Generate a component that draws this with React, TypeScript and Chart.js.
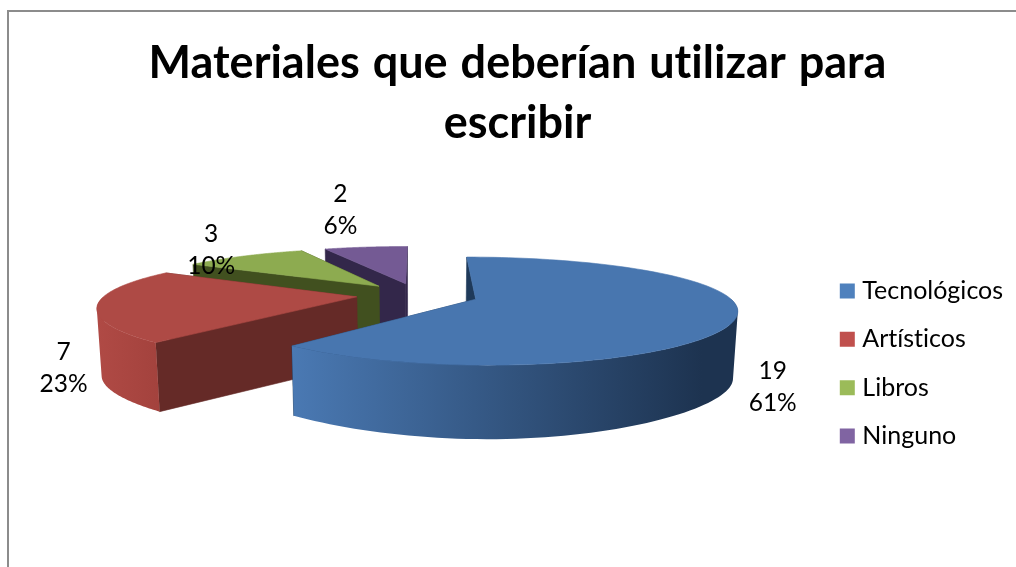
import React, { useEffect, useRef } from "react";
import { Chart, registerables } from "chart.js";

Chart.register(...registerables);

const titleLines = ["Materiales que deberían utilizar para", "escribir"];
const categories = ["Tecnológicos", "Artísticos", "Libros", "Ninguno"];
const counts = [19, 7, 3, 2];
const legendColors = ["#4f81bd", "#c0504d", "#9bbb59", "#8064a2"];
const topColors = ["#4876af", "#ae4a45", "#8dab50", "#745a94"];
const cutColors = ["#1f3a5a", "#652a27", "#41501f", "#33274a"];
const rimLight = ["#4a79b3", "#b04a45", "#8dab50", "#745a94"];
const rimDark = ["#1d3350", "#a3423d", "#6f8a3c", "#5a4676"];
const labelReach = [1.376, 1.37, 1.52, 2.08];
const labelDrop = [66, 62, 0.5, -15];
const paintOrder = [3, 2, 1, 0];

// Projection of the flat pie onto the tilted 3D plane
const CX = 417.5;
const CY = 295;
const RX = 251.6;
const RY = 49.6;
const PERSPECTIVE_X = 0.18;
const PERSPECTIVE_Y = 0.215;
const EXPLODE = 0.243;
const BOTTOM_SCALE = 0.985;
const DEPTH = 67;
const DEPTH_FRONT = 7;
const STEPS = 120;

type P = { x: number; y: number; v: number; front: boolean };

const project = (u: number, v: number, front = true): P => ({
  x: CX + (RX * u) / (1 - PERSPECTIVE_X * v),
  y: CY + (RY * v) / (1 - PERSPECTIVE_Y * v),
  v,
  front,
});
const lower = (p: P): P => {
  const f = Math.pow(Math.max(p.v, 0) / 1.083, 4);
  return { ...p, x: CX + (p.x - CX) * BOTTOM_SCALE, y: p.y + DEPTH + DEPTH_FRONT * f };
};
const polygon = (ctx: CanvasRenderingContext2D, pts: P[], fill: string | CanvasGradient) => {
  ctx.beginPath();
  pts.forEach((p, i) => (i ? ctx.lineTo(p.x, p.y) : ctx.moveTo(p.x, p.y)));
  ctx.closePath();
  ctx.fillStyle = fill;
  ctx.fill();
  ctx.strokeStyle = fill;
  ctx.lineWidth = 0.6;
  ctx.stroke();
};
const signedArea = (q: P[]) =>
  q.reduce((sum, p, i) => {
    const n = q[(i + 1) % q.length];
    return sum + p.x * n.y - n.x * p.y;
  }, 0);
// One path of equally wound strips, so that the wall has neither seams nor holes
const sweptWall = (ctx: CanvasRenderingContext2D, wall: P[], fill: CanvasGradient) => {
  ctx.beginPath();
  for (let k = 0; k < wall.length - 1; k++) {
    const quad = [wall[k], wall[k + 1], lower(wall[k + 1]), lower(wall[k])];
    const pts = signedArea(quad) < 0 ? quad.reverse() : quad;
    pts.forEach((p, i) => (i ? ctx.lineTo(p.x, p.y) : ctx.moveTo(p.x, p.y)));
    ctx.closePath();
  }
  ctx.fillStyle = fill;
  ctx.fill("nonzero");
};

const pie3d = {
  id: "pie3d",
  beforeDraw(chart: any) {
    // keeps letters apart as in the reference (no "ti" ligature) and widens the gaps between words
    chart.ctx.letterSpacing = "0.01px";
    chart.ctx.wordSpacing = "2px";
  },
  beforeDatasetsDraw(chart: any) {
    const ctx: CanvasRenderingContext2D = chart.ctx;
    const arcs = chart.getDatasetMeta(0).data;
    const total = counts.reduce((a, b) => a + b, 0);
    ctx.save();
    for (const i of paintOrder) {
      const { startAngle, endAngle } = arcs[i];
      const mid = (startAngle + endAngle) / 2;
      const ox = Math.cos(mid) * EXPLODE;
      const oy = Math.sin(mid) * EXPLODE;
      const apex = project(ox, oy);
      const rim: P[] = [];
      for (let k = 0; k <= STEPS; k++) {
        const a = startAngle + ((endAngle - startAngle) * k) / STEPS;
        rim.push(project(ox + Math.cos(a), oy + Math.sin(a), Math.sin(a) >= 0));
      }
      const first = rim[0];
      const last = rim[rim.length - 1];
      polygon(ctx, [apex, last, lower(last), lower(apex)], cutColors[i]);
      polygon(ctx, [apex, first, lower(first), lower(apex)], cutColors[i]);
      // the outer wall is only seen along the half of the rim that faces the viewer
      const wall = rim.filter((p) => p.front);
      if (wall.length > 1) {
        const xs = rim.map((p) => p.x);
        const minX = Math.min(...xs);
        const maxX = Math.max(...xs);
        const grad = ctx.createLinearGradient(minX, 0, minX + (maxX - minX) * 0.92, 0);
        grad.addColorStop(0, rimLight[i]);
        grad.addColorStop(1, rimDark[i]);
        sweptWall(ctx, wall, grad);
      }
      polygon(ctx, [apex, ...rim], topColors[i]);
    }
    ctx.fillStyle = "#000000";
    ctx.font = "24.5px Lato";
    ctx.textAlign = "center";
    ctx.textBaseline = "middle";
    counts.forEach((count, i) => {
      const { startAngle, endAngle } = arcs[i];
      const mid = (startAngle + endAngle) / 2;
      const reach = labelReach[i];
      const p = project(Math.cos(mid) * reach, Math.sin(mid) * reach);
      const y = p.y + labelDrop[i];
      ctx.fillText(String(count), p.x, y - 16);
      ctx.fillText(`${Math.round((count / total) * 100)}%`, p.x, y + 16);
    });
    ctx.restore();
    return false;
  },
};

export default function App() {
  const ref = useRef<HTMLCanvasElement>(null);
  useEffect(() => {
    const chart = new Chart(ref.current!, {
      type: "pie",
      data: {
        labels: categories,
        datasets: [{ data: counts, backgroundColor: legendColors, borderWidth: 0 }],
      },
      options: {
        responsive: false,
        animation: false,
        layout: { padding: { left: 22, right: 3, top: 0, bottom: -160 } },
        plugins: {
          tooltip: { enabled: false },
          title: {
            display: true,
            text: titleLines,
            color: "#000000",
            font: { family: "Lato", size: 45, weight: "bold", lineHeight: 60 / 45 },
            padding: { top: 33, bottom: 10 },
          },
          legend: {
            position: "right",
            labels: {
              color: "#000000",
              font: { family: "Lato", size: 25 },
              usePointStyle: true,
              pointStyle: "rect",
              boxWidth: 5,
              boxHeight: 15,
              padding: 23.3,
            },
          },
        },
      },
      plugins: [pie3d],
    } as any);
    return () => chart.destroy();
  }, []);
  return (
    <div style={{ position: "absolute", left: 0, top: 0, width: 1016, height: 567, overflow: "hidden", background: "#fff" }}>
      <div style={{ position: "absolute", left: 7, top: 10, width: 1016, height: 567, borderLeft: "2px solid #8c8c8c", borderTop: "2px solid #8c8c8c" }} />
      <canvas ref={ref} width={1016} height={567} style={{ position: "absolute", left: 0, top: 0, display: "block" }} />
    </div>
  );
}
